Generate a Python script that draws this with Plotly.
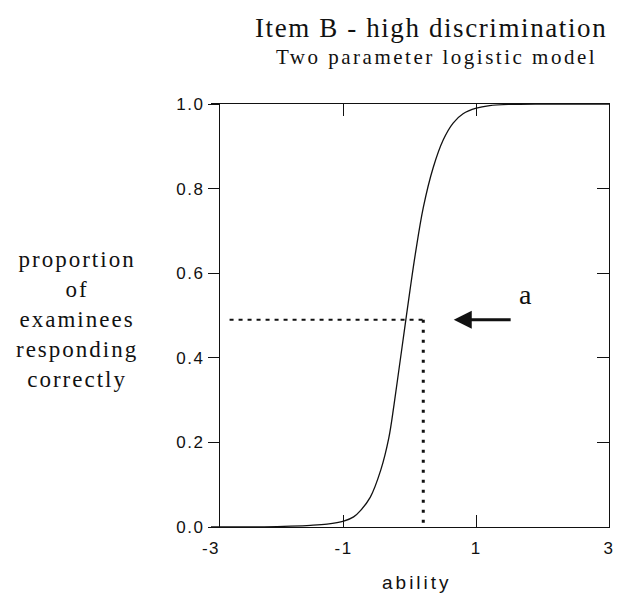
import plotly.graph_objects as go

# Item characteristic curve
ability = [-3.0, -2.2, -1.8, -1.5, -1.25, -1.0, -0.85, -0.74, -0.6, -0.44, -0.32,
           -0.24, -0.16, -0.08, 0.0, 0.08, 0.2, 0.35, 0.5, 0.65, 0.8, 1.0, 1.2,
           1.5, 2.0, 3.0]
proportion = [0.0, 0.0005, 0.002, 0.004, 0.007, 0.014, 0.024, 0.04, 0.07, 0.135, 0.21,
              0.29, 0.38, 0.47, 0.56, 0.645, 0.755, 0.85, 0.915, 0.955, 0.977, 0.99, 0.996,
              0.999, 1.0, 1.0]

# reference lines and arrow
ref_y = 0.49
ref_x = 0.2
hline_start = -2.72
vline_end = -0.025
arrow_head = (0.66, 0.49)
arrow_tail = (1.54, 0.49)
label_pos = (1.74, 0.55)

x_ticks = [-3, -1, 1, 3]
x_ticktext = ["-3", "-1", "1", "3"]
y_ticks = [0.0, 0.2, 0.4, 0.6, 0.8, 1.0]
y_ticktext = ["0.0", "0.2", "0.4", "0.6", "0.8", "1.0"]

title_text = "Item B - high discrimination"
subtitle_text = "Two parameter logistic model"
ytitle_lines = ["proportion", "of", "examinees", "responding", "correctly"]
xtitle_text = "ability"

serif = "Liberation Serif, Times New Roman, serif"
sans = "Liberation Sans, Arial, sans-serif"


def spaced(t, px):
    return f"<span style='letter-spacing:{px}px'>{t}</span>"


fig = go.Figure()
fig.add_trace(go.Scatter(x=ability, y=proportion, mode="lines",
                         line=dict(color="#111", width=1.3, shape="spline", smoothing=1.0),
                         showlegend=False, hoverinfo="skip"))
fig.add_trace(go.Scatter(x=[], y=[], yaxis="y2", showlegend=False))

# dashed horizontal and dotted vertical
fig.add_shape(type="line", xref="x", yref="y", x0=hline_start, x1=ref_x, y0=ref_y, y1=ref_y,
              line=dict(color="#111", width=2, dash="4px,5px"))
fig.add_shape(type="line", xref="x", yref="y", x0=ref_x, x1=ref_x, y0=ref_y, y1=vline_end,
              line=dict(color="#111", width=3, dash="3px,7px"))

fig.add_annotation(x=arrow_head[0], y=arrow_head[1], ax=arrow_tail[0], ay=arrow_tail[1],
                   xref="x", yref="y", axref="x", ayref="y", text="", showarrow=True,
                   arrowhead=2, arrowsize=1.2, arrowwidth=3, arrowcolor="#111")
fig.add_annotation(x=label_pos[0], y=label_pos[1], xref="x", yref="y", text="a",
                   showarrow=False, font=dict(family=serif, size=28, color="#111"))

fig.add_annotation(x=1.0, y=1.18, xref="paper", yref="paper", xanchor="right", yanchor="middle",
                   text=spaced(title_text, 1.6), showarrow=False,
                   font=dict(family=serif, size=27, color="#111"))
fig.add_annotation(x=0.975, y=1.111, xref="paper", yref="paper", xanchor="right",
                   yanchor="middle", text=spaced(subtitle_text, 2.5), showarrow=False,
                   font=dict(family=serif, size=21, color="#111"))
fig.add_annotation(x=-0.3375, y=0.49, xref="paper", yref="paper", xanchor="center",
                   yanchor="middle",
                   text="<br>".join(spaced(s, 2.0) for s in ytitle_lines),
                   showarrow=False, align="center",
                   font=dict(family=serif, size=23, color="#111"))
fig.add_annotation(x=0.517, y=-0.132, xref="paper", yref="paper", xanchor="center",
                   yanchor="middle", text=spaced(xtitle_text, 3.0), showarrow=False,
                   font=dict(family=sans, size=19, color="#111"))

fig.update_layout(
    width=625, height=598,
    margin=dict(l=211, r=11, t=104, b=71),
    paper_bgcolor="white", plot_bgcolor="white",
    xaxis=dict(range=[-3, 3], tickvals=x_ticks,
               ticktext=[spaced(t, 1.5) for t in x_ticktext],
               ticks="inside", ticklen=12, tickcolor="#111", showline=True,
               linecolor="#111", linewidth=1.4, mirror="ticks", showgrid=False,
               zeroline=False, ticklabelstandoff=5,
               tickfont=dict(family=sans, size=17, color="#111")),
    yaxis=dict(range=[0, 1], tickvals=y_ticks,
               ticktext=[spaced(t, 1.5) for t in y_ticktext], anchor="free",
               position=0.02, ticks="outside", ticklen=11, tickcolor="#111",
               showline=True, linecolor="#111", linewidth=1.4, showgrid=False,
               zeroline=False, tickfont=dict(family=sans, size=17, color="#111")),
    yaxis2=dict(range=[0, 1], tickvals=y_ticks, overlaying="y", side="right",
                anchor="x", ticks="inside", ticklen=12, tickcolor="#111",
                showline=True, linecolor="#111", linewidth=1.4, showgrid=False,
                zeroline=False, showticklabels=False),
)

fig.write_html("out.html")
